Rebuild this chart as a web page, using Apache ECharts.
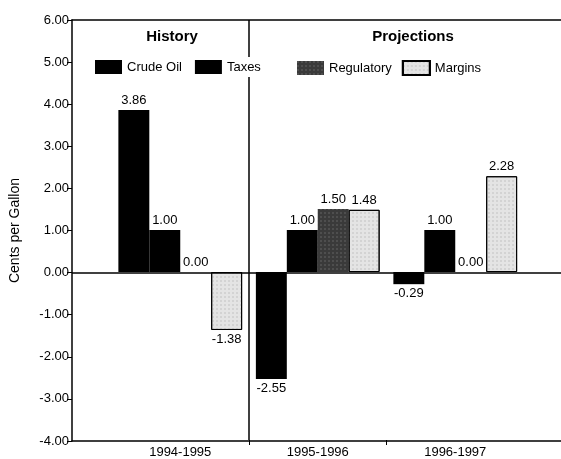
<!DOCTYPE html>
<html>
<head>
<meta charset="utf-8">
<script src="https://cdn.jsdelivr.net/npm/echarts@6/dist/echarts.min.js"></script>
<style>html,body{margin:0;padding:0;background:#fff}#c{width:561px;height:459px}</style>
</head>
<body>
<div id="c"></div>
<script>
const categories = ['1994-1995', '1995-1996', '1996-1997'];
const crudeOil = [3.86, -2.55, -0.29];
const taxes = [1.00, 1.00, 1.00];
const regulatory = [0.00, 1.50, 0.00];
const margins = [-1.38, 1.48, 2.28];
const yMin = -4, yMax = 6, yStep = 1;
const panelTitles = ['History', 'Projections'];
const historyCount = 1; // number of history categories (divider after them)
const boundaryTicks = [1, 2]; // category boundaries that carry a tick

const FONT = 'Liberation Sans, Arial, sans-serif';
const chart = echarts.init(document.getElementById('c'), null, {renderer: 'canvas'});

function items(arr) {
  return arr.map(v => ({value: v, label: {position: v < 0 ? 'bottom' : 'top'}}));
}
const labelStyle = {show: true, formatter: p => p.value.toFixed(2), color: '#000', fontFamily: FONT, fontSize: 13, distance: 3};

function bar(name, arr, style) {
  return {
    name, type: 'bar', xAxisIndex: 2, yAxisIndex: 1, data: items(arr),
    barGap: '0%', barCategoryGap: '10%', label: labelStyle, itemStyle: style,
    emphasis: {disabled: true}
  };
}

chart.setOption({
  animation: false,
  backgroundColor: '#fff',
  textStyle: {fontFamily: FONT},
  title: [
    {text: panelTitles[0], left: 167, top: 24, textAlign: 'center', textStyle: {fontFamily: FONT, fontSize: 15, fontWeight: 'bold', color: '#000'}},
    {text: panelTitles[1], left: 408, top: 24, textAlign: 'center', textStyle: {fontFamily: FONT, fontSize: 15, fontWeight: 'bold', color: '#000'}}
  ],
  legend: [
    {data: ['Crude Oil', 'Taxes'], icon: 'rect', left: 91, top: 57, padding: [3, 4], backgroundColor: '#fff', z: 10,
     itemWidth: 27, itemHeight: 14, itemGap: 13, textStyle: {fontFamily: FONT, fontSize: 13, color: '#000'}},
    {data: ['Regulatory', 'Margins'], icon: 'rect', left: 293, top: 57, padding: [3, 4],
     itemWidth: 27, itemHeight: 14, itemGap: 10, textStyle: {fontFamily: FONT, fontSize: 13, color: '#000'}}
  ],
  grid: [
    {left: 70, right: -2, top: 20, bottom: 18},
    {left: 111.5, right: 37, top: 20, bottom: 18}
  ],
  xAxis: [
    {gridIndex: 0, type: 'category', data: [''], position: 'bottom', axisLine: {onZero: false, lineStyle: {color: '#000', width: 1.5}}, axisTick: {show: false}, axisLabel: {show: false}},
    {gridIndex: 0, type: 'category', data: [''], position: 'top', axisLine: {onZero: false, lineStyle: {color: '#000', width: 1.5}}, axisTick: {show: false}, axisLabel: {show: false}},
    {gridIndex: 1, type: 'category', data: categories, position: 'bottom',
     axisLine: {show: false, onZero: false},
     axisTick: {show: false},
     axisLabel: {color: '#000', fontFamily: FONT, fontSize: 13, margin: 6},
     splitLine: {show: false}},
    {gridIndex: 1, type: 'value', min: 0, max: categories.length, interval: 1, position: 'bottom',
     axisLine: {show: false, onZero: false},
     axisTick: {show: true, length: 5, customValues: boundaryTicks, lineStyle: {color: '#000'}},
     axisLabel: {show: false},
     splitLine: {show: false}}
  ],
  yAxis: [
    {gridIndex: 0, type: 'value', min: yMin, max: yMax, interval: yStep,
     name: 'Cents per Gallon', nameLocation: 'middle', nameGap: 50, nameTextStyle: {fontFamily: FONT, fontSize: 14, color: '#000'},
     axisLine: {show: true, lineStyle: {color: '#000', width: 1.5}},
     axisTick: {show: true, length: 5, lineStyle: {color: '#000'}},
     axisLabel: {formatter: v => v.toFixed(2), color: '#000', fontFamily: FONT, fontSize: 13, margin: 3},
     splitLine: {show: false}},
    {gridIndex: 1, type: 'value', min: yMin, max: yMax, interval: yStep, show: false, splitLine: {show: false}}
  ],
  series: [
    bar('Crude Oil', crudeOil, {color: '#000'}),
    bar('Taxes', taxes, {color: '#000'}),
    bar('Regulatory', regulatory, {color: '#3a3a3a', decal: {symbol: 'rect', symbolSize: 0.5, color: '#8a8a8a', dashArrayX: 2, dashArrayY: 2}}),
    bar('Margins', margins, {color: '#e4e4e4', borderColor: '#000', borderWidth: 1, decal: {symbol: 'rect', symbolSize: 0.5, color: '#a0a0a0', dashArrayX: 2, dashArrayY: 2}}),
    {type: 'line', xAxisIndex: 0, yAxisIndex: 0, data: [], silent: true,
     markLine: {silent: true, symbol: 'none', label: {show: false}, lineStyle: {color: '#000', width: 1.5, type: 'solid'}, data: [{yAxis: 0}]}},
    {type: 'line', xAxisIndex: 3, yAxisIndex: 1, data: [], silent: true,
     markLine: {silent: true, symbol: 'none', label: {show: false}, lineStyle: {color: '#000', width: 1.5, type: 'solid'}, data: [{xAxis: historyCount}]}}
  ]
});
</script>
</body>
</html>
